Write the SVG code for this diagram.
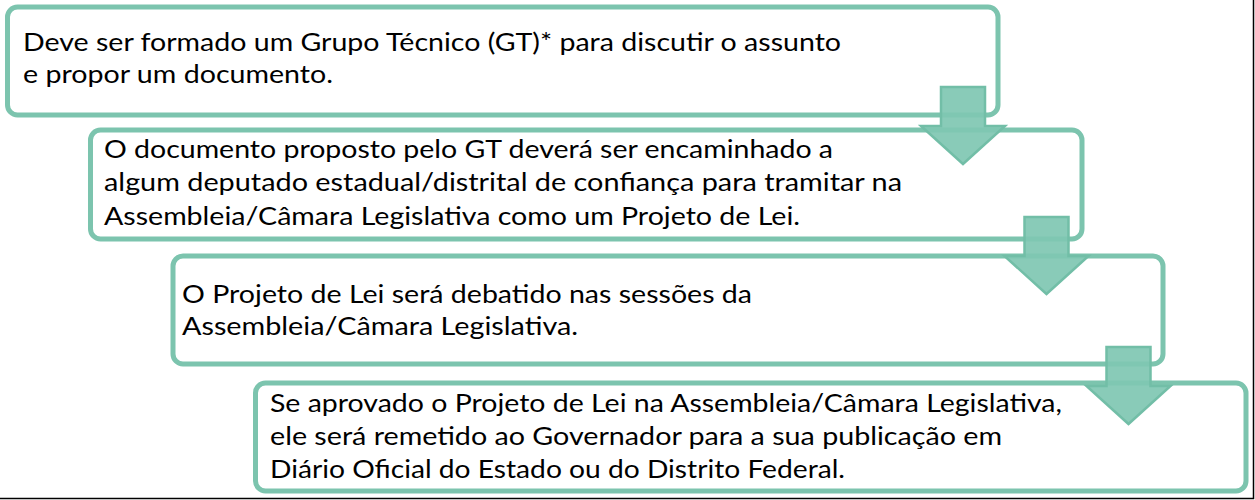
<svg xmlns="http://www.w3.org/2000/svg" width="1255" height="500" viewBox="0 0 1255 500">
  <style>
    .box { fill: #ffffff; stroke: #7cc4ae; stroke-width: 5; }
    .arrow { fill: #7fc7b2; fill-opacity: 0.92; stroke: #72bea7; stroke-width: 2.5; stroke-linejoin: miter; }
    .t { font-family: Lato, "Open Sans", "Liberation Sans", sans-serif; font-size: 25.5px; fill: #000000; }
  </style>
  <defs>
    <path id="arrowShape" d="M -22 0 L 22 0 L 22 39 L 42 39 L 0 77 L -42 39 L -22 39 Z"/>
  </defs>
  <rect width="1255" height="500" fill="#ffffff"/>

  <g id="node1">
    <rect class="box" x="7.5" y="7" width="990.5" height="108" rx="10"/>
    <text class="t" x="23" y="51" textLength="818" lengthAdjust="spacingAndGlyphs">Deve ser formado um Grupo Técnico (GT)* para discutir o assunto</text>
    <text class="t" x="23" y="83" textLength="310" lengthAdjust="spacingAndGlyphs">e propor um documento.</text>
  </g>

  <g id="node2">
    <rect class="box" x="90.5" y="130" width="991.5" height="109" rx="10"/>
    <text class="t" x="104" y="158" textLength="729" lengthAdjust="spacingAndGlyphs">O documento proposto pelo GT deverá ser encaminhado a</text>
    <text class="t" x="104" y="191" textLength="798" lengthAdjust="spacingAndGlyphs">algum deputado estadual/distrital de confiança para tramitar na</text>
    <text class="t" x="104" y="225" textLength="696" lengthAdjust="spacingAndGlyphs">Assembleia/Câmara Legislativa como um Projeto de Lei.</text>
  </g>

  <g id="node3">
    <rect class="box" x="173" y="256" width="990" height="108" rx="10"/>
    <text class="t" x="182" y="303" textLength="570" lengthAdjust="spacingAndGlyphs">O Projeto de Lei será debatido nas sessões da</text>
    <text class="t" x="182" y="335" textLength="396" lengthAdjust="spacingAndGlyphs">Assembleia/Câmara Legislativa.</text>
  </g>

  <g id="node4">
    <rect class="box" x="255.5" y="383" width="990.5" height="108" rx="10"/>
    <text class="t" x="270" y="412" textLength="792" lengthAdjust="spacingAndGlyphs">Se aprovado o Projeto de Lei na Assembleia/Câmara Legislativa,</text>
    <text class="t" x="270" y="445" textLength="732" lengthAdjust="spacingAndGlyphs">ele será remetido ao Governador para a sua publicação em</text>
    <text class="t" x="270" y="478" textLength="575" lengthAdjust="spacingAndGlyphs">Diário Oficial do Estado ou do Distrito Federal.</text>
  </g>

  <g id="connectors">
    <use href="#arrowShape" class="arrow" transform="translate(963,87)"/>
    <use href="#arrowShape" class="arrow" transform="translate(1046.5,217)"/>
    <use href="#arrowShape" class="arrow" transform="translate(1128.5,347)"/>
  </g>

  <polyline points="0,498.5 1253.5,498.5 1253.5,0" fill="none" stroke="#000000" stroke-width="1.5"/>
</svg>
